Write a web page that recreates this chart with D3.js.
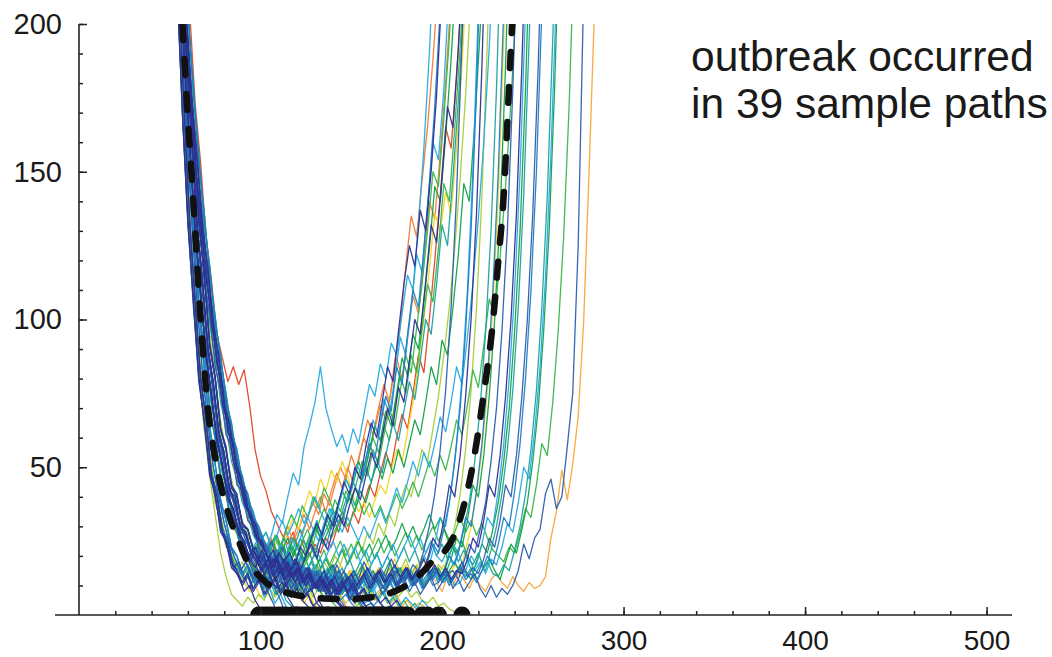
<!DOCTYPE html>
<html>
<head>
<meta charset="utf-8">
<script src="https://cdn.jsdelivr.net/npm/d3@7"></script>
<style>
  body { margin: 0; background: #ffffff; }
  svg { display: block; }
  text { font-family: "Liberation Sans", Arial, Helvetica, sans-serif; fill: #1a1a1a; }
</style>
</head>
<body>
<svg id="chart" width="1052" height="657"></svg>
<script>
// ---------------- DATA ----------------
const xDomain = [0, 514];
const yDomain = [0, 200];
const xTickLabels = [100, 200, 300, 400, 500];
const xMinorTicks = d3.range(20, 501, 20);
const yTickLabels = [50, 100, 150, 200];
const yMinorTicks = d3.range(10, 201, 10);
const annotationLines = ["outbreak occurred", "in 39 sample paths"];

const palette = ["#2e3192", "#2b5fae", "#1f7fc4", "#27aae1", "#1ba39c", "#12a14b",
                 "#39b54a", "#a6ce39", "#f4d41e", "#f7a738", "#ef7d35", "#e2442a"];

const timeStep = 3; // sampling interval of every path

// outbreak paths
const outbreakStart = [55,54,56,55,57,54,55,58,56,55,54,56,55,57,54,56,55,57,54,56,55,57,55,54,56,55,57,55,56,54,57,55,56,55,56,56,54,57,55];
const outbreakColor = [3,10,0,2,6,3,8,11,0,5,7,4,1,6,2,5,3,0,7,4,10,2,5,8,1,6,3,0,4,5,2,1,3,5,1,9,4,6,3];
const outbreakValues = [
  [226,191,157,132,107,90,72,61,49,42,33,29,23,20,21,18,23,27,34,31,40,48,44,57,64,72,84,70,63,57,61,55,63,58,68,78,74,85,80,92,88,102,115,110,132,158,190,230],
  [232,201,178,152,135,114,101,85,75,62,55,45,40,32,29,24,21,25,19,23,28,24,30,27,33,38,34,41,37,44,50,46,54,49,58,66,61,70,78,72,86,98,118,135,128,147,165,188,215],
  [229,193,163,133,113,91,78,62,54,43,38,30,27,21,18,22,16,19,14,18,21,17,23,20,26,31,27,34,30,38,45,41,50,46,57,65,60,72,84,79,96,112,125,118,137,130,150,176,212],
  [214,172,133,107,80,66,48,41,29,25,17,15,12,16,11,14,9,13,17,13,19,15,21,18,24,20,27,23,30,35,31,39,45,41,50,58,53,64,74,69,84,78,95,110,104,124,146,172,205],
  [233,205,176,156,132,118,99,88,72,65,52,47,38,34,27,25,21,26,22,18,23,20,25,29,24,31,36,32,39,35,42,38,45,52,47,56,51,61,70,64,76,88,82,97,112,130,150,145,168,195,230],
  [224,190,156,131,106,89,71,60,48,41,32,28,22,19,23,17,21,15,19,24,20,26,22,28,33,29,25,31,36,32,39,46,42,51,47,56,66,61,73,68,80,94,88,104,122,116,138,160,154,178,215],
  [216,168,136,103,84,62,51,37,31,22,19,14,17,12,15,19,16,21,25,22,28,33,29,36,42,38,46,42,49,45,52,47,40,35,38,33,39,44,41,49,56,52,62,72,85,100,117,136,130,143,136,158,186,222],
  [232,204,173,153,128,113,95,87,79,84,78,83,71,56,47,42,35,31,27,24,28,22,25,20,24,21,26,23,29,33,28,35,31,38,44,40,48,55,50,60,68,63,75,88,82,100,120,142,165,158,182,212],
  [231,204,175,155,131,117,98,87,71,64,52,46,37,33,27,24,20,16,21,18,14,19,15,20,24,19,26,22,29,34,30,37,43,39,47,55,50,60,70,64,77,72,86,100,95,113,132,126,148,172,165,192,228],
  [227,188,160,129,110,87,75,58,51,39,35,27,25,19,16,20,15,18,22,17,21,26,22,19,25,30,26,33,29,36,42,38,45,52,47,56,64,59,69,64,75,87,81,95,90,106,124,145,140,162,188,220],
  [222,176,138,107,83,63,47,34,21,13,7,5,3,6,4,7,5,9,6,10,8,12,9,14,11,16,13,18,15,20,17,23,19,25,22,28,24,31,27,34,30,38,44,40,48,56,52,63,74,88,104,124,148,176,212],
  [228,191,164,132,114,90,79,62,55,42,40,30,28,22,25,19,23,17,21,26,20,24,29,23,27,32,26,30,35,31,37,42,37,44,50,45,53,48,57,65,59,69,79,73,86,100,95,112,132,125,148,174,206],
  [213,171,132,108,79,67,47,42,28,26,16,18,13,9,14,11,7,12,9,15,11,8,13,10,16,12,9,14,11,17,13,10,15,12,18,14,11,16,13,19,15,12,13,17,15,22,30,41,56,76,104,142,195,250],
  [234,202,179,153,136,115,101,86,75,62,56,45,41,33,30,25,22,27,23,29,34,30,37,33,40,36,43,39,34,40,46,42,49,45,53,60,55,64,59,70,81,75,88,82,97,112,106,124,146,140,165,192,226],
  [223,190,155,131,105,89,70,60,47,41,31,28,21,19,15,11,14,9,12,8,11,14,10,7,11,9,13,10,6,10,13,9,12,8,11,14,10,13,9,12,15,11,14,12,15,12,18,24,21,29,38,52,70,96,130,178,240],
  [228,190,163,132,113,90,78,61,54,42,39,29,28,20,22,17,21,25,19,23,18,22,26,21,25,30,24,28,33,28,35,40,35,42,38,45,51,46,53,48,56,50,58,66,61,72,84,78,93,88,104,122,146,140,166,198,236],
  [231,204,175,155,131,118,98,88,72,65,52,47,38,35,27,26,21,17,20,15,18,13,16,11,14,17,12,15,10,13,16,11,14,9,13,16,12,15,11,14,10,13,9,11,15,20,17,24,33,30,42,58,80,110,150,205],
  [229,192,166,134,116,92,81,63,57,44,41,30,29,22,18,14,17,12,15,10,13,16,11,14,9,12,15,10,13,8,11,14,10,13,16,12,15,11,14,17,13,16,12,15,14,19,26,23,32,44,40,54,74,100,136,186,250],
  [215,169,134,104,83,63,52,38,32,23,21,15,18,13,16,11,14,9,12,7,10,13,8,11,6,9,12,8,11,14,10,13,9,12,15,11,14,10,13,16,12,15,19,14,17,13,16,13,17,15,22,30,41,56,76,104,142,195,250],
  [232,202,178,153,135,114,102,85,76,62,57,45,42,33,31,25,22,18,21,16,19,14,17,12,15,10,13,16,11,14,9,12,15,10,13,8,11,14,10,13,16,12,15,11,14,17,13,15,12,18,24,21,29,38,52,70,96,130,178,240],
  [226,189,159,131,109,88,74,59,51,40,36,28,25,19,23,18,22,26,21,25,30,25,29,34,29,35,40,35,42,48,43,50,45,53,60,55,63,71,66,76,87,80,94,108,102,120,140,134,156,180,210],
  [230,191,165,133,115,91,80,63,56,43,40,31,29,22,19,15,18,13,16,11,14,9,12,15,10,13,8,11,14,9,12,7,10,13,9,12,15,11,14,10,13,16,12,15,11,14,10,11,15,20,17,24,33,30,42,58,80,110,150,205],
  [214,170,134,106,81,65,49,40,30,24,18,16,12,15,10,13,9,12,7,10,13,8,11,6,9,12,8,5,9,12,7,10,13,9,12,8,11,14,10,13,9,12,15,11,14,10,13,16,12,14,19,26,23,32,44,40,54,74,100,136,186,250],
  [223,189,154,131,104,88,69,59,46,40,31,27,22,18,15,19,14,17,12,15,10,13,16,11,14,9,12,15,10,13,17,12,15,11,14,18,13,16,12,15,19,14,17,13,16,20,15,18,14,17,13,17,15,22,30,41,56,76,104,142,195,250],
  [232,203,178,154,135,115,101,86,75,63,56,46,41,34,30,25,22,18,21,17,14,18,15,11,14,10,13,9,12,15,10,13,8,11,14,9,12,7,10,13,8,11,14,10,13,16,12,15,11,14,15,12,18,24,21,29,38,52,70,96,130,178,240],
  [227,188,160,129,110,87,75,58,51,39,36,27,25,19,22,17,21,16,20,24,19,23,18,22,27,22,26,31,26,30,35,30,34,39,34,38,33,37,32,36,41,36,40,45,40,46,52,47,54,49,57,66,61,71,83,77,91,107,101,121,145,174,208,248],
  [216,171,135,105,83,64,51,39,32,23,20,14,17,12,15,11,14,9,12,8,11,14,10,7,11,9,12,15,10,13,8,11,6,9,12,8,11,14,10,13,9,12,15,11,14,17,12,15,11,14,10,11,15,20,17,24,33,30,42,58,80,110,150,205],
  [233,201,180,152,136,114,102,85,77,62,58,45,43,33,31,24,21,17,20,15,18,13,16,12,15,10,13,9,12,7,10,13,8,11,14,9,12,15,11,14,10,13,16,12,15,19,14,17,13,16,12,15,14,19,26,23,32,44,40,54,74,100,136,186,250],
  [228,190,162,131,112,89,77,60,53,41,38,28,27,20,23,18,22,17,21,16,20,15,19,14,18,13,17,12,16,11,15,19,14,18,13,17,21,16,20,15,19,23,18,22,17,21,25,20,24,19,23,18,22,17,13,17,15,22,30,41,56,76,104,142,195,250],
  [224,189,155,131,105,89,70,60,47,41,31,28,21,19,16,13,17,12,15,19,14,11,15,9,13,10,14,8,12,16,11,14,10,13,17,12,15,11,14,18,13,16,12,15,11,14,17,13,16,12,15,18,14,15,12,18,24,21,29,38,52,70,96,130,178,240],
  [232,206,177,156,133,118,99,88,73,65,53,47,39,35,28,25,21,17,20,16,13,17,14,11,15,12,9,13,10,7,11,8,12,9,6,10,13,9,12,8,11,14,10,13,9,12,15,11,14,10,13,16,12,14,11,15,20,17,24,33,30,42,58,80,110,150,205],
  [226,190,157,132,107,90,72,61,49,42,33,29,23,20,17,14,18,15,12,16,13,10,14,11,8,12,9,13,10,7,11,8,12,9,13,10,14,11,8,12,15,11,14,10,13,9,12,16,12,15,11,14,18,13,16,14,19,26,23,32,44,40,54,74,100,136,186,250],
  [215,171,134,106,82,65,50,40,31,24,19,15,18,13,16,12,15,19,14,17,21,16,20,15,18,22,17,21,25,20,24,19,23,18,22,17,21,16,20,24,19,23,27,22,26,21,25,20,18,22,17,21,16,19,15,18,14,19,17,23,31,28,38,50,46,62,84,114,156,210],
  [225,190,156,131,106,89,71,60,48,41,32,27,22,19,16,19,14,17,13,16,20,15,18,14,17,21,16,19,15,18,22,17,21,25,20,24,19,23,27,22,26,31,26,30,25,29,34,29,33,28,24,21,25,20,17,21,16,19,15,12,18,24,21,29,38,52,70,96,130,178,240],
  [227,191,160,133,110,91,75,62,51,43,36,30,25,21,18,15,19,14,17,12,16,19,13,16,12,15,11,14,17,12,15,10,14,11,15,10,13,9,12,15,10,13,8,11,7,10,13,8,11,14,9,12,8,11,14,9,6,10,6,9,7,10,15,24,19,26,29,41,46,36,40,57,75,125,210],
  [228,192,163,134,113,92,78,63,54,43,38,30,27,21,19,16,21,17,14,19,16,13,18,15,12,17,14,11,16,13,10,15,12,16,13,10,15,12,9,14,11,15,12,16,13,10,14,11,8,13,10,14,12,9,13,10,8,12,14,11,9,13,10,8,11,9,10,13,26,35,49,39,51,67,99,150,205],
  [231,205,176,155,132,117,99,87,72,64,52,46,38,34,27,24,20,24,19,15,19,16,13,17,14,11,15,12,9,13,10,14,11,8,12,9,13,10,7,11,8,12,15,11,14,10,13,16,12,15,11,14,17,13,16,12,15,18,14,13,17,15,22,30,41,56,76,104,142,195,250],
  [229,193,165,133,115,91,80,62,56,43,40,30,29,22,19,23,17,21,16,20,24,19,15,19,23,18,22,17,21,25,20,24,19,23,18,22,26,21,25,20,24,28,23,27,22,26,30,25,29,24,28,33,28,32,27,31,26,22,20,18,23,21,28,36,33,44,58,54,72,96,128,172,230],
  [232,203,178,153,135,114,102,85,76,62,57,45,42,33,31,25,28,23,27,32,27,31,36,31,35,40,35,31,36,32,28,33,29,25,30,26,31,36,31,37,43,38,45,52,47,55,50,58,67,62,72,84,78,94,112,134,160,192,232]
];

// paths that went extinct (end at zero)
const extinctStart = [55,56,54,55,57,56,55,54,56,55,57,55,56,54,55,57,56,55,54,56,55,57,55,54,56,55,57,56,55,54,56,55,57];
const extinctColor = [0,1,1,0,4,0,9,0,6,8,0,1,1,10,5,2,0,2,7,1,0,7,0,3,1,8,2,1,0,0,6,9,3];
const extinctValues = [
  [213,169,133,105,80,66,47,40,28,24,16,13,8,10,5,2,0],
  [227,190,159,130,110,88,75,58,51,39,34,25,21,16,11,13,8,4,0],
  [232,200,179,151,136,113,102,84,76,61,57,44,42,32,30,23,19,13,9,5,0],
  [226,188,160,129,110,87,75,58,51,39,36,27,25,18,21,15,18,12,9,11,6,3,0],
  [215,170,135,104,83,63,51,38,32,22,20,13,16,11,14,9,12,7,10,5,3,0],
  [231,204,175,156,131,118,98,88,71,65,52,47,37,34,26,25,19,22,16,19,13,15,10,7,9,4,2,0],
  [226,189,159,131,109,88,74,59,51,40,36,28,25,19,22,17,21,15,18,13,16,11,8,10,6,3,0],
  [214,170,134,106,81,65,49,40,30,24,18,15,11,14,9,12,7,10,13,8,11,6,9,5,3,0],
  [228,191,161,132,111,89,77,60,53,41,38,29,27,21,24,18,22,16,20,14,17,12,15,10,13,8,11,6,4,2,0],
  [215,170,134,105,82,64,50,39,31,23,19,14,11,8,10,6,9,5,8,11,7,10,6,4,7,3,1,0],
  [230,192,165,133,115,91,80,63,56,43,40,31,29,22,19,16,20,14,17,12,15,18,13,16,11,9,12,7,5,3,0],
  [233,201,180,152,136,114,102,85,77,62,58,45,43,33,31,24,21,25,19,23,17,14,18,12,16,10,13,8,11,6,4,1,0],
  [228,190,162,131,112,89,77,60,53,41,38,28,27,20,23,18,15,19,14,17,12,16,11,14,9,12,8,10,6,4,2,0],
  [224,189,155,131,105,89,70,60,47,41,31,28,21,19,16,20,24,19,23,18,15,19,14,17,12,15,10,13,8,11,6,3,1,0],
  [232,203,178,153,135,114,102,85,76,62,57,45,42,33,31,25,28,23,27,22,26,20,24,18,21,16,19,14,17,12,9,11,7,4,2,0],
  [216,171,135,105,83,64,51,39,32,23,20,14,17,12,15,10,13,16,11,14,9,12,15,10,13,8,11,7,9,5,7,4,2,0],
  [228,191,164,132,114,90,79,62,55,42,40,30,28,21,18,15,19,13,16,12,15,11,14,10,13,9,12,8,11,7,10,6,4,6,3,1,0],
  [231,204,175,155,131,118,98,88,71,65,52,47,37,34,26,25,21,18,22,17,20,15,18,13,16,12,15,11,14,9,12,8,10,6,4,5,2,0],
  [223,190,155,131,104,89,69,60,46,41,30,28,20,19,16,13,15,11,14,9,12,8,11,7,10,6,9,5,8,11,7,4,6,3,5,2,1,0],
  [215,171,134,106,82,65,50,40,31,24,19,15,18,13,16,12,15,11,14,10,13,9,12,16,11,14,10,13,9,7,10,6,8,5,3,4,2,0],
  [226,189,159,131,109,88,74,59,51,40,36,28,25,19,16,20,17,14,18,13,16,12,15,11,14,10,13,9,12,8,11,7,10,6,9,5,7,4,2,3,1,0],
  [229,196,165,138,115,96,80,66,55,46,38,32,27,23,20,18,15,17,14,16,13,11,13,10,12,14,11,9,11,8,10,12,9,11,8,6,8,10,7,5,7,9,6,8,5,4,6,3,4,2,1,0],
  [232,205,176,155,132,117,99,87,72,64,52,46,38,34,27,24,21,17,20,15,18,13,16,11,14,9,12,7,10,5,3,0],
  [214,169,133,105,80,66,48,41,29,25,17,15,11,14,9,12,6,9,4,7,3,0],
  [228,190,162,131,112,89,77,60,53,41,38,28,27,20,17,21,16,19,14,17,12,15,10,13,8,11,13,9,12,7,10,5,8,4,2,0],
  [225,190,156,131,106,89,71,60,48,41,32,27,22,19,15,18,13,16,11,14,9,12,7,10,6,3,0],
  [233,202,179,153,136,115,101,86,75,62,56,45,41,33,30,25,22,18,21,16,19,14,17,12,15,10,13,9,12,7,10,6,8,4,6,3,5,2,3,1,0],
  [227,191,160,133,110,91,75,62,51,43,36,30,25,21,18,15,12,15,11,14,8,11,6,9,4,2,0],
  [226,190,158,131,108,89,74,60,50,42,35,29,24,20,23,18,21,16,19,14,17,13,16,11,14,10,8,11,7,9,12,8,11,7,9,5,7,4,6,3,5,2,0],
  [213,170,132,107,79,66,47,41,28,25,16,14,10,13,8,11,14,9,12,7,10,6,9,5,7,3,5,2,0],
  [231,203,176,154,133,116,99,87,73,63,54,46,38,34,28,24,21,25,19,23,17,21,15,19,13,17,11,15,10,13,8,12,7,10,6,9,5,8,4,6,3,5,2,4,1,0],
  [225,190,157,131,107,89,72,60,49,41,33,28,23,19,16,13,17,12,15,10,14,9,12,15,11,14,10,13,9,12,8,11,7,10,6,9,5,8,6,4,7,3,5,2,4,3,1,0],
  [229,192,165,134,115,91,80,63,56,44,40,31,29,23,20,17,21,15,19,13,17,12,16,11,15,10,14,9,13,8,12,7,11,9,6,10,5,8,4,7,3,6,4,2,5,3,1,0]
];

// times at which paths went extinct (black dots on the axis)
const extinctionTimes = [
  99,101,103,105,107,110,112,114,117,119,120,121,123,125,127,129,131,133,134,136,
  137,138,140,142,144,146,147,148,149,151,153,155,156,158,160,161,163,164,165,166,
  167,169,171,173,175,177,178,180,181,189,192,198,211
];

// mean path (dashed)
const meanTimes  = [57,60,63,67,71,76,83,88,92,98,103,110,118,126,135,147,158,168,175,179,185,190,196,202,206,212,217,223,228,231,234,237,239];
const meanValues = [200,168,140,100,70,50,33,25,19,14,11,8.5,7,6.1,5.6,5.4,5.8,6.8,8.3,9.5,12,15,19,22,26,37,51,75,99,120,142,180,205];

// ---------------- DRAWING ----------------
const svg = d3.select("#chart");
const x = d3.scaleLinear().domain(xDomain).range([79, 1012]);
const y = d3.scaleLinear().domain(yDomain).range([615, 24]);

svg.append("clipPath").attr("id", "plotClip")
  .append("rect")
  .attr("x", x(xDomain[0])).attr("y", y(yDomain[1]))
  .attr("width", x(xDomain[1]) - x(xDomain[0]))
  .attr("height", y(yDomain[0]) - y(yDomain[1]));

const plot = svg.append("g").attr("clip-path", "url(#plotClip)");
const line = d3.line().x(d => x(d[0])).y(d => y(d[1]));

// combine all sample paths; draw warm colours first so dark blues sit on top
const allPaths = [];
outbreakValues.forEach((v, k) => allPaths.push({ start: outbreakStart[k], color: outbreakColor[k], values: v }));
extinctValues.forEach((v, k) => allPaths.push({ start: extinctStart[k], color: extinctColor[k], values: v }));
allPaths.sort((a, b) => b.color - a.color);

plot.selectAll("path.sample").data(allPaths).enter().append("path")
  .attr("class", "sample")
  .attr("d", p => line(p.values.map((v, i) => [p.start + i * timeStep, v])))
  .attr("fill", "none")
  .attr("stroke", p => palette[p.color])
  .attr("stroke-width", 1.3)
  .attr("stroke-linejoin", "round")
  .attr("stroke-opacity", 0.95);

// mean path
const meanLine = d3.line().curve(d3.curveMonotoneX).x(d => x(d[0])).y(d => y(d[1]));
plot.append("path")
  .attr("d", meanLine(meanTimes.map((t, i) => [t, meanValues[i]])))
  .attr("fill", "none")
  .attr("stroke", "#111")
  .attr("stroke-width", 6.5)
  .attr("stroke-linecap", "round")
  .attr("stroke-dasharray", "16,19");

// extinction dots
plot.selectAll("circle.ext").data(extinctionTimes).enter().append("circle")
  .attr("class", "ext")
  .attr("cx", d => x(d)).attr("cy", y(0)).attr("r", 8.5)
  .attr("fill", "#111");

// axes
const axisColor = "#222";
const fontFam = '"Liberation Sans", Arial, Helvetica, sans-serif';
const xAxisMinor = d3.axisBottom(x).tickValues(xMinorTicks).tickSize(-4).tickFormat("");
const xAxisMajor = d3.axisBottom(x).tickValues(xTickLabels).tickSize(-8).tickPadding(15).tickFormat(d3.format("d"));
const gx1 = svg.append("g").attr("transform", `translate(0,${y(0)})`).call(xAxisMinor);
const gx2 = svg.append("g").attr("transform", `translate(0,${y(0)})`).call(xAxisMajor);
[gx1, gx2].forEach(g => {
  g.select(".domain").remove();
  g.selectAll("line").attr("stroke", axisColor).attr("stroke-width", 1.5);
  g.selectAll("text").attr("font-size", 28).attr("fill", "#1a1a1a").attr("font-family", fontFam);
});
svg.append("line")
  .attr("x1", x(xDomain[0]) - 24).attr("x2", x(xDomain[1]))
  .attr("y1", y(0)).attr("y2", y(0))
  .attr("stroke", axisColor).attr("stroke-width", 1.6);

const yAxisMinor = d3.axisLeft(y).tickValues(yMinorTicks).tickSize(-4).tickFormat("");
const yAxisMajor = d3.axisLeft(y).tickValues(yTickLabels).tickSize(-8).tickPadding(17).tickFormat(d3.format("d"));
const gy1 = svg.append("g").attr("transform", `translate(${x(0)},0)`).call(yAxisMinor);
const gy2 = svg.append("g").attr("transform", `translate(${x(0)},0)`).call(yAxisMajor);
[gy1, gy2].forEach(g => {
  g.select(".domain").remove();
  g.selectAll("line").attr("stroke", axisColor).attr("stroke-width", 1.5);
  g.selectAll("text").attr("font-size", 29).attr("fill", "#1a1a1a").attr("font-family", fontFam);
});
svg.append("line")
  .attr("x1", x(0)).attr("x2", x(0))
  .attr("y1", y(yDomain[1])).attr("y2", y(0))
  .attr("stroke", axisColor).attr("stroke-width", 1.6);

// annotation
const ann = svg.append("text").attr("x", 691).attr("y", 71).attr("font-size", 42.5);
annotationLines.forEach((t, i) => {
  ann.append("tspan").attr("x", 691).attr("dy", i === 0 ? 0 : 47).text(t);
});
</script>
</body>
</html>
